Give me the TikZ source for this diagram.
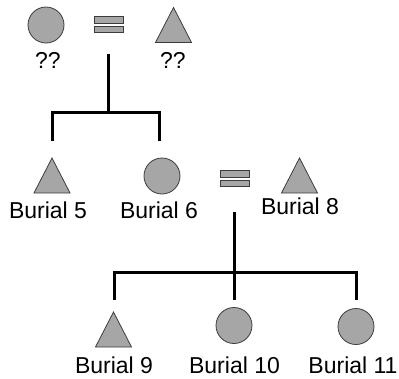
\documentclass[tikz,border=0pt]{standalone}
\usepackage{fontspec}
\setmainfont{Liberation Sans}
\definecolor{symfill}{HTML}{A6A6A6}
\definecolor{symline}{HTML}{3C3C3C}
\begin{document}
\begin{tikzpicture}[x=1pt,y=-1pt,
  sym/.style={fill=symfill,draw=symline,line width=0.8pt},
  kin/.style={line width=3pt,draw=black,line join=miter},
  lbl/.style={font=\fontsize{23}{27}\selectfont,anchor=base,inner sep=0pt},
  fem/.style={circle,sym,minimum size=36pt,inner sep=0pt},
  tri/.pic={\draw[sym] (0,-17.5) -- (18,17.5) -- (-18,17.5) -- cycle; \coordinate (-c) at (0,0);},
  marr/.pic={\draw[sym] (-14.5,-8) rectangle (14.5,-1.5); \draw[sym] (-14.5,1.5) rectangle (14.5,8); \coordinate (-c) at (0,0);}]
\useasboundingbox (0,0) rectangle (399,378);

% generation 1
\node[fem] (f1) at (46,25) {};
\pic (m1) at (108.5,24.5) {marr};
\pic (p1) at (173.5,25) {tri};
\node[lbl] (lf1) at (48,68) {??};
\node[lbl] (lp1) at (173,68) {??};

% generation 2
\pic (p5) at (52,175.5) {tri};
\node[fem] (f6) at (162,176) {};
\pic (m2) at (234.5,178.5) {marr};
\pic (p8) at (299.5,175.5) {tri};
\node[lbl] (l5) at (48,218) {Burial 5};
\node[lbl] (l6) at (159,218) {Burial 6};
\node[lbl] (l8) at (300,214) {Burial 8};

% generation 3
\pic (p9) at (113.5,329.5) {tri};
\node[fem] (f10) at (234,325.5) {};
\node[fem] (f11) at (356,326.5) {};
\node[lbl] (l9) at (114,373) {Burial 9};
\node[lbl] (l10) at (234.5,373) {Burial 10};
\node[lbl] (l11) at (353,373) {Burial 11};

% connectors
\coordinate (s1) at (108,54);
\coordinate (j1) at (108,112);
\coordinate (b5) at (52,141);
\coordinate (b6) at (159,141);
\draw[kin] (s1) -- (j1);
\draw[kin] (b5) |- (j1) -| (b6);

\coordinate (s2) at (234,212);
\coordinate (j2) at (234,272);
\coordinate (b9) at (114,300);
\coordinate (b10) at (234,300);
\coordinate (b11) at (356,300);
\draw[kin] (s2) -- (b10);
\draw[kin] (b9) |- (j2) -| (b11);
\end{tikzpicture}
\end{document}
